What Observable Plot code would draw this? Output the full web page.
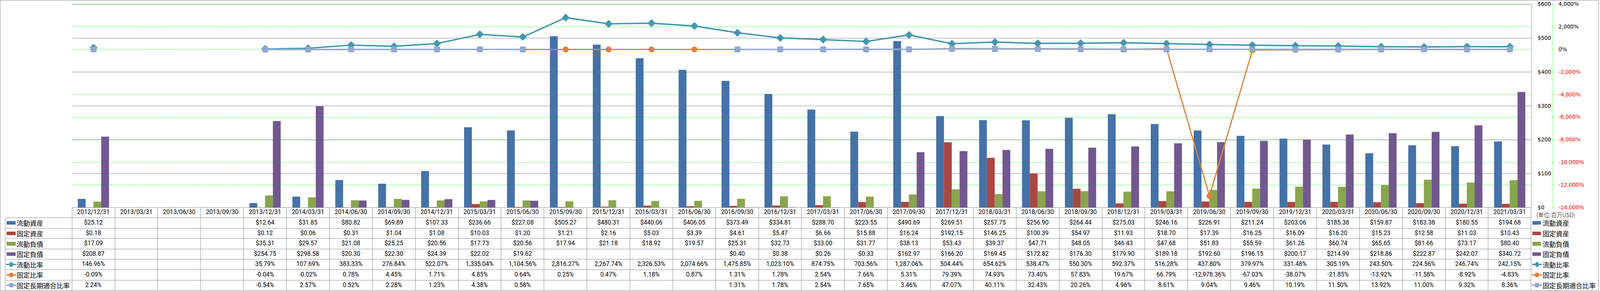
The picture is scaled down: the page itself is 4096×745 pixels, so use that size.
<!DOCTYPE html>
<html>
<head>
<meta charset="utf-8">
<script src="https://cdn.jsdelivr.net/npm/d3@7"></script>
<script src="https://cdn.jsdelivr.net/npm/@observablehq/plot@0.6"></script>
<style>
html, body { margin: 0; padding: 0; background: #fff; }
#chart { position: relative; width: 4093px; height: 744px; overflow: hidden; background: #fff; }
#chart > svg.plotroot { position: absolute; left: 0; top: 0; }
</style>
</head>
<body>
<div id="chart"></div>
<script>
// ---------- data ----------
const dates = ["2012/12/31","2013/03/31","2013/06/30","2013/09/30","2013/12/31","2014/03/31","2014/06/30","2014/09/30","2014/12/31","2015/03/31","2015/06/30","2015/09/30","2015/12/31","2016/03/31","2016/06/30","2016/09/30","2016/12/31","2017/03/31","2017/06/30","2017/09/30","2017/12/31","2018/03/31","2018/06/30","2018/09/30","2018/12/31","2019/03/31","2019/06/30","2019/09/30","2019/12/31","2020/03/31","2020/06/30","2020/09/30","2020/12/31","2021/03/31"];
const currentAssets = [25.12,null,null,null,12.64,31.85,80.82,69.89,107.33,236.66,227.08,505.27,480.31,440.06,406.05,373.49,334.81,288.70,223.55,490.69,269.51,257.75,256.90,264.44,275.03,246.16,226.91,211.24,203.06,185.38,159.87,183.38,180.55,194.68];
const fixedAssets = [0.18,null,null,null,0.12,0.06,0.31,1.04,1.08,10.03,1.20,1.21,2.16,5.03,3.39,4.61,5.47,6.66,15.88,16.24,192.15,146.25,100.39,54.97,11.93,18.70,17.39,16.25,16.09,16.20,15.23,12.58,11.03,10.43];
const currentLiabilities = [17.09,null,null,null,35.31,29.57,21.08,25.25,20.56,17.73,20.56,17.94,21.18,18.92,19.57,25.31,32.73,33.00,31.77,38.13,53.43,39.37,47.71,48.05,46.43,47.68,51.83,55.59,61.26,60.74,65.65,81.66,73.17,80.40];
const fixedLiabilities = [208.87,null,null,null,254.75,298.58,20.30,22.30,24.39,22.02,19.62,null,null,null,null,0.40,0.38,0.26,0.33,162.97,166.20,169.45,172.82,176.30,179.90,189.18,192.60,196.15,200.17,214.99,218.86,222.87,242.07,340.72];
const currentRatio = [146.96,null,null,null,35.79,107.69,383.33,276.84,522.07,1335.04,1104.56,2816.27,2267.74,2326.53,2074.66,1475.85,1023.10,874.75,703.56,1287.06,504.44,654.62,538.47,550.30,592.37,516.28,437.80,379.97,331.48,305.19,243.50,224.56,246.74,242.15];
const fixedRatio = [-0.09,null,null,null,-0.04,-0.02,0.78,4.45,1.71,4.85,0.64,0.25,0.47,1.18,0.87,1.31,1.78,2.54,7.66,5.31,79.39,74.93,73.40,57.83,19.67,66.79,-12978.36,-67.03,-38.07,-21.85,-13.92,-11.58,-8.92,-4.83];
const fixedLongTermRatio = [2.24,null,null,null,-0.54,2.57,0.52,2.28,1.23,4.38,0.58,null,null,null,null,1.31,1.78,2.54,7.65,3.46,47.07,40.11,32.43,20.26,4.96,8.61,9.04,9.46,10.19,11.50,13.92,11.00,9.32,8.36];

const moneyTicks = [0, 100, 200, 300, 400, 500, 600];
const pctTicks = [-14000, -12000, -10000, -8000, -6000, -4000, -2000, 0, 2000, 4000];
const unitLabel = "(単位:百万USD)";

const barSeries = [
  {name: "流動資産", values: currentAssets, color: "#4572A7"},
  {name: "固定資産", values: fixedAssets, color: "#AA4643"},
  {name: "流動負債", values: currentLiabilities, color: "#89A54E"},
  {name: "固定負債", values: fixedLiabilities, color: "#71588F"}
];
const lineSeries = [
  {name: "流動比率", values: currentRatio, color: "#4198AF", symbol: "diamond2"},
  {name: "固定比率", values: fixedRatio, color: "#DB843D", symbol: "circle"},
  {name: "固定長期適合比率", values: fixedLongTermRatio, color: "#93A9CF", symbol: "square2"}
];

// ---------- layout ----------
const s = 0.695;
const W = 4093, H = 744;
const moneyDomain = [moneyTicks[0], moneyTicks[moneyTicks.length - 1]];
const pctDomain = [pctTicks[0], pctTicks[pctTicks.length - 1]];
const toY = r => moneyDomain[0] + (r - pctDomain[0]) / (pctDomain[1] - pctDomain[0]) * (moneyDomain[1] - moneyDomain[0]);
const fromY = y => pctDomain[0] + (y - moneyDomain[0]) / (moneyDomain[1] - moneyDomain[0]) * (pctDomain[1] - pctDomain[0]);
const fmt2 = v => v.toLocaleString("en-US", {minimumFractionDigits: 2, maximumFractionDigits: 2});
const fmtInt = v => v.toLocaleString("en-US");

const container = document.getElementById("chart");
const nB = barSeries.length, groupPad = 0.75, step = 1 / (nB + 2 * groupPad);
const xMax = dates.length - 0.5;

const marks = [];
// grid lines
marks.push(Plot.ruleY(pctTicks.map(toY), {stroke: "#00ff00", strokeWidth: 1, strokeDasharray: "2.6,1.6"}));
marks.push(Plot.ruleY(moneyTicks, {stroke: "#888888", strokeWidth: 1}));
marks.push(Plot.ruleX([xMax], {stroke: "#888888", strokeWidth: 1}));
// bars
barSeries.forEach((ser, k) => {
  const data = dates.map((d, i) => ({i, v: ser.values[i]})).filter(d => d.v != null);
  marks.push(Plot.rect(data, {
    x1: d => d.i - 0.5 + (groupPad + k) * step,
    x2: d => d.i - 0.5 + (groupPad + k + 1) * step,
    y1: () => 0, y2: "v", fill: ser.color
  }));
});
// ratio lines (mapped onto the right-hand percent axis)
const lineWidths = [3.7, 3.1, 3.7];
const dotOpts = [
  {r: 9.2},
  {r: 7.6},
  {r: 8.2, stroke: "#8ea5cc", strokeWidth: 2, strokeLinejoin: "round"}
];
lineSeries.forEach((ser, k) => {
  const data = dates.map((d, i) => ({i, y: ser.values[i] == null ? NaN : toY(ser.values[i])}));
  marks.push(Plot.line(data, {x: "i", y: "y", stroke: ser.color, strokeWidth: lineWidths[k], strokeLinejoin: "round"}));
  marks.push(Plot.dot(data.filter(d => !isNaN(d.y)), {x: "i", y: "y", symbol: ser.symbol, fill: ser.color, ...dotOpts[k]}));
});
// axes (both on the right)
const pctDx = (5717 - 5640) * s;
marks.push(Plot.ruleX([xMax], {dx: pctDx, stroke: "#00ff00", strokeWidth: 1, strokeDasharray: "2.6,1.6"}));
marks.push(Plot.axisY(moneyTicks, {anchor: "right", tickSize: 0, tickPadding: 23 * s, tickFormat: d => "$" + d, fill: "#000", fontSize: 13.6, fontFamily: "DejaVu Sans"}));
const pctAxisOpts = {anchor: "right", dx: pctDx, tickSize: 8 * s, tickPadding: 15 * s, stroke: "#00ff00", fontSize: 13.6, fontFamily: "DejaVu Sans", tickFormat: y => fmtInt(Math.round(fromY(y))) + "%"};
marks.push(Plot.axisY(pctTicks.filter(t => t >= 0).map(toY), {...pctAxisOpts, fill: "#000"}));
marks.push(Plot.axisY(pctTicks.filter(t => t < 0).map(toY), {...pctAxisOpts, fill: "#ff0000"}));

const chart = Plot.plot({
  width: W, height: H,
  marginLeft: 265 * s, marginRight: W - 5640 * s, marginTop: 15 * s, marginBottom: H - 764 * s,
  x: {type: "linear", domain: [-0.5, xMax], axis: null},
  y: {domain: moneyDomain, axis: null},
  style: {background: "transparent", fontFamily: "DejaVu Sans", fontSize: "13.6px", color: "#000", overflow: "visible"},
  marks
});
chart.classList.add("plotroot");
container.appendChild(chart);

// ---------- data table (HTML, columns from the Plot x scale) ----------
const xs = chart.scale("x");
const colL = j => xs.apply(j - 0.5);
const top0 = 764 * s, rh = 38.25 * s, nRows = 8;
const lineColor = "#8c8c8c";
function box(style) {
  const d = document.createElement("div");
  Object.assign(d.style, {position: "absolute"}, style);
  container.appendChild(d);
  return d;
}
function hline(x1, x2, y) { box({left: x1 + "px", top: (y - 0.5) + "px", width: (x2 - x1) + "px", height: "1px", background: lineColor}); }
function vline(x, y1, y2) { box({left: (x - 0.5) + "px", top: y1 + "px", width: "1px", height: (y2 - y1) + "px", background: lineColor}); }
function text(txt, left, top, width, height, o = {}) {
  const d = box({left: left + "px", top: top + "px", width: width + "px", height: height + "px", display: "flex", alignItems: "center",
    justifyContent: o.justify || "center", whiteSpace: "nowrap", fontFamily: o.font || "Roboto", fontSize: (o.size || 15.6) + "px",
    fontWeight: o.weight || "400", color: o.color || "#000", lineHeight: "1"});
  d.textContent = txt;
  return d;
}
function keyEl(ser, isLine, left, cy) {
  if (!isLine) {
    box({left: left + "px", top: (cy - 4.6) + "px", width: 22.2 + "px", height: 9.2 + "px", background: ser.color});
    return;
  }
  const w = 25.5, h = 16;
  const svg = d3.create("svg").attr("width", w).attr("height", h)
    .style("position", "absolute").style("left", (left - 1) + "px").style("top", (cy - h / 2) + "px").style("overflow", "visible");
  svg.append("line").attr("x1", 0).attr("x2", w).attr("y1", h / 2).attr("y2", h / 2).attr("stroke", ser.color).attr("stroke-width", 3.4);
  const sym = {diamond2: d3.symbolDiamond2, circle: d3.symbolCircle, square2: d3.symbolSquare2}[ser.symbol];
  const size = ser.symbol === "square2" ? 110 : (ser.symbol === "circle" ? 120 : 140);
  svg.append("path").attr("d", d3.symbol(sym, size)()).attr("transform", `translate(${w / 2},${h / 2})`)
    .attr("fill", ser.color).attr("stroke", ser.symbol === "square2" ? "#8ea5cc" : "none").attr("stroke-width", 1.5).attr("stroke-linejoin", "round");
  container.appendChild(svg.node());
}

const xLeft = 20 * s, xRight = colL(dates.length);
for (let r = 1; r < nRows; r++) hline(xLeft, xRight, top0 + r * rh);
vline(xLeft, top0 + rh, top0 + nRows * rh);
for (let j = 0; j <= dates.length; j++) vline(colL(j), top0, top0 + nRows * rh);

// header row: dates + unit
dates.forEach((d, j) => text(d, colL(j), top0, colL(j + 1) - colL(j), rh));
text(unitLabel, 5659 * s, top0 + 6, 200, rh, {justify: "flex-start", font: "Noto Sans CJK JP", size: 14.6, weight: "300"});

const rows = [
  ...barSeries.map(ser => ({ser, isLine: false, f: v => "$" + fmt2(v)})),
  ...lineSeries.map(ser => ({ser, isLine: true, f: v => fmt2(v) + "%"}))
];
rows.forEach((row, r) => {
  const y = top0 + (r + 1) * rh, cy = y + rh / 2;
  keyEl(row.ser, row.isLine, 25 * s, cy);
  text(row.ser.name, 61 * s, y, 150, rh, {justify: "flex-start", font: "Noto Sans CJK JP", size: 17});
  row.ser.values.forEach((v, j) => { if (v != null) text(row.f(v), colL(j), y, colL(j + 1) - colL(j), rh); });
  // right-hand legend
  keyEl(row.ser, row.isLine, 5645 * s, cy);
  text(row.ser.name, 5682 * s, y, 160, rh, {justify: "flex-start", font: "Noto Sans CJK JP", size: 17});
});

// outer border
box({left: "0px", top: "0px", width: W + "px", height: H + "px", boxSizing: "border-box", border: "1px solid #888888", pointerEvents: "none"});
</script>
</body>
</html>
